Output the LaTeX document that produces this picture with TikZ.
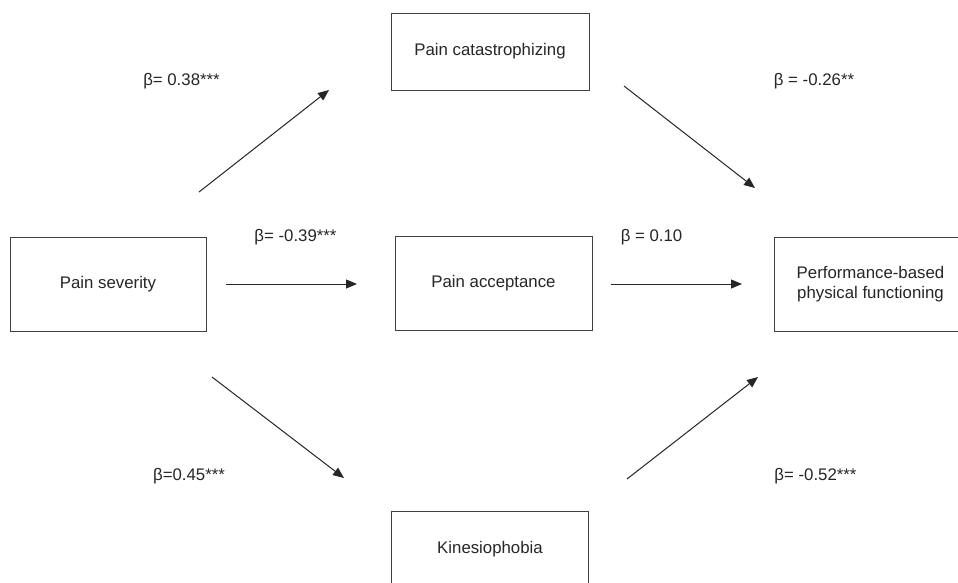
\documentclass[tikz,border=0pt]{standalone}
\usepackage{fontspec}
\setmainfont{Liberation Sans}
\usetikzlibrary{arrows.meta}
\begin{document}
\begin{tikzpicture}[x=1pt,y=-1pt,
  font=\fontsize{16.8}{20.5}\selectfont,
  varbox/.style={draw=black!75,line width=1pt,rectangle,inner sep=0pt,align=center,text=black!85},
  path/.style={draw=black!85,line width=1pt,-{Triangle[length=11pt,width=9pt]}},
  coef/.style={inner sep=0pt,text=black!85,anchor=center}]
\useasboundingbox (0,0) rectangle (958,582);
\fill[white] (0,0) rectangle (958,582);
% boxes
\node[varbox,minimum width=196pt,minimum height=94pt] (sev) at (108,284) {Pain severity};
\node[varbox,minimum width=197pt,minimum height=94pt] (acc) at (493.5,283) {Pain acceptance};
\node[varbox,minimum width=198pt,minimum height=77pt] (cat) at (490,51.5) {Pain catastrophizing};
\node[varbox,minimum width=193pt,minimum height=94pt] (perf) at (870.5,284) {Performance-based\\[-1pt]physical functioning};
\node[varbox,minimum width=197.5pt,minimum height=77pt] (kin) at (490,549.5) {Kinesiophobia};
% arrow end points
\coordinate (a1s) at (199,192); \coordinate (a1e) at (329,90);
\coordinate (a2s) at (624,86);  \coordinate (a2e) at (755,188);
\coordinate (a3s) at (226,284); \coordinate (a3e) at (357,284);
\coordinate (a4s) at (611,284); \coordinate (a4e) at (742,284);
\coordinate (a5s) at (212,377); \coordinate (a5e) at (344,478);
\coordinate (a6s) at (627,479); \coordinate (a6e) at (758,377);
\draw[path] (a1s) -- (a1e);
\draw[path] (a2s) -- (a2e);
\draw[path] (a3s) -- (a3e);
\draw[path] (a4s) -- (a4e);
\draw[path] (a5s) -- (a5e);
\draw[path] (a6s) -- (a6e);
% coefficients
\node[coef] (l1) at (181.5,81) {β= 0.38***};
\node[coef] (l2) at (295.5,237) {β= -0.39***};
\node[coef] (l3) at (814,81) {β = -0.26**};
\node[coef] (l4) at (651.5,237) {β = 0.10};
\node[coef] (l5) at (189,476) {β=0.45***};
\node[coef] (l6) at (815.5,476) {β= -0.52***};
\end{tikzpicture}
\end{document}
